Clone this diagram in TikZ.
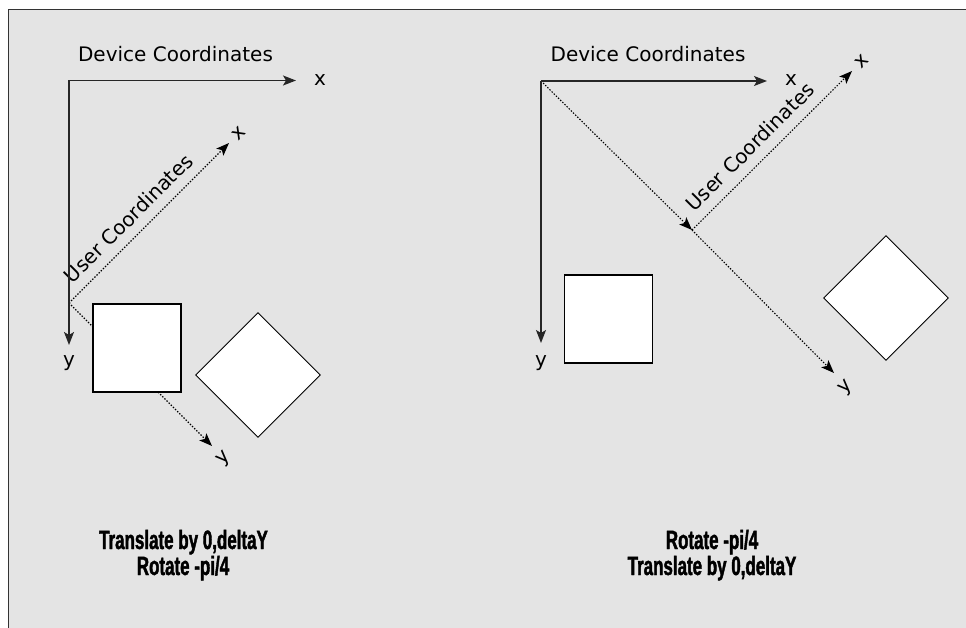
\documentclass[tikz,border=0pt]{standalone}
\usepackage{fontspec}
\setmainfont{DejaVu Sans}
\newfontfamily\condfont[FakeStretch=0.64,FakeBold=1.6]{Liberation Sans Bold}
\usetikzlibrary{arrows.meta}
\definecolor{bggray}{HTML}{E4E4E4}
\definecolor{framegray}{HTML}{333333}
\tikzset{
  axis/.style={line width=1.3pt, draw=black!85, -{Stealth[length=13pt,width=10pt,inset=3pt]}},
  uaxis/.style={line width=1.1pt, dash pattern=on 1.4pt off 1.6pt, draw=black, -{Stealth[length=13pt,width=10pt,inset=3pt]}},
  lbl/.style={font=\fontsize{20}{24}\selectfont, inner sep=0pt},
  sq/.style={draw=black, fill=white, line width=1.1pt, minimum size=88pt, inner sep=0pt},
  caption/.style={font=\condfont\fontsize{26.5}{27}\selectfont, inner sep=0pt, anchor=base}
}
\begin{document}
\begin{tikzpicture}[x=1pt,y=-1pt]
\useasboundingbox (0,0) rectangle (966,628);
\fill[white] (0,0) rectangle (966,628);
\filldraw[fill=bggray, draw=framegray, line width=1.5pt] (8.5,9.5) rectangle (990,650);

% ---------- left diagram ----------
\coordinate (ldo) at (69,80.5);
\coordinate (ldx) at (296,80.5);
\coordinate (ldy) at (69,345);
\coordinate (luo) at (69,303);
\coordinate (lux) at (229,143);
\coordinate (luy) at (212,446);
\node[lbl] (ldtitle) at (175.5,54.5) {Device Coordinates};
\node[lbl] (ldxl) at (320,80) {x};
\node[lbl] (ldyl) at (69,363) {y};
\node[lbl, rotate=45] (lutitle) at (128.4,218.2) {User Coordinates};
\node[lbl, rotate=45] (luxl) at (239,133) {x};
\node[lbl, rotate=45] (luyl) at (224,459) {y};
\draw[uaxis] (luo) -- (lux);
\draw[uaxis] (luo) -- (luy);
\draw[axis] (ldo) -- (ldx);
\draw[axis] (ldo) -- (ldy);
\node[sq] (lsq) at (137,348) {};
\node[sq, rotate=45, line width=0.9pt] (ldia) at (258,375) {};
\node[caption] (lcap1) at (183.5,549) {Translate by 0,deltaY};
\node[caption] (lcap2) at (183,575) {Rotate -pi/4};

% ---------- right diagram ----------
\coordinate (rdo) at (541,81);
\coordinate (rdx) at (767,81);
\coordinate (rdy) at (541,343);
\coordinate (ruo) at (692,230);
\coordinate (rux) at (852,71);
\coordinate (ruy) at (834,373);
\node[lbl] (rdtitle) at (648,54) {Device Coordinates};
\node[lbl] (rdxl) at (791,80) {x};
\node[lbl] (rdyl) at (541,363) {y};
\node[lbl, rotate=45] (rutitle) at (750,146.6) {User Coordinates};
\node[lbl, rotate=45] (ruxl) at (862,61) {x};
\node[lbl, rotate=45] (ruyl) at (846,388) {y};
\draw[uaxis] (rdo) -- (ruo);
\draw[uaxis] (ruo) -- (rux);
\draw[uaxis] (ruo) -- (ruy);
\draw[axis] (rdo) -- (rdx);
\draw[axis] (rdo) -- (rdy);
\node[sq] (rsq) at (608.5,319) {};
\node[sq, rotate=45, line width=0.9pt] (rdia) at (886,298) {};
\node[caption] (rcap1) at (712,549) {Rotate -pi/4};
\node[caption] (rcap2) at (712,575) {Translate by 0,deltaY};
\end{tikzpicture}
\end{document}
